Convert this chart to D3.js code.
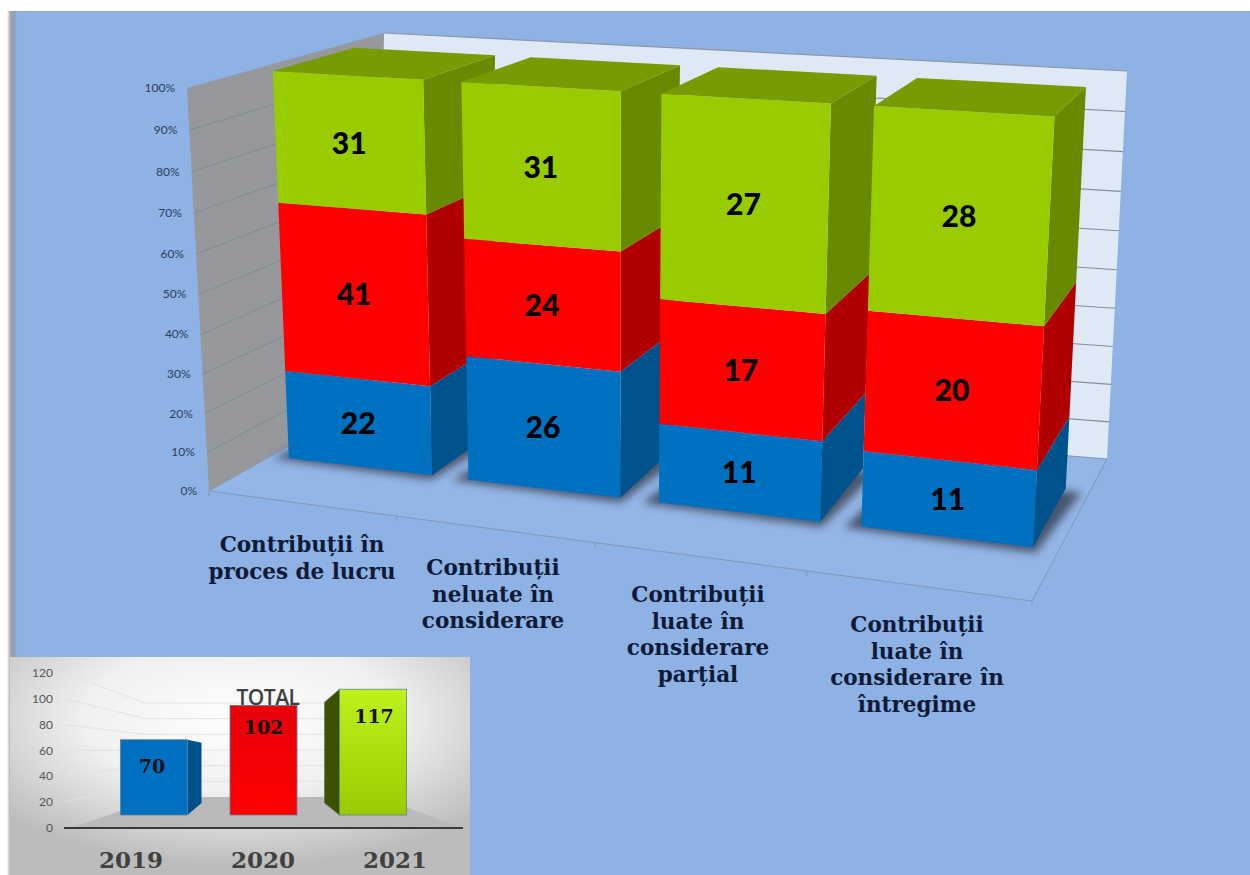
<!DOCTYPE html>
<html>
<head>
<meta charset="utf-8">
<script src="https://cdnjs.cloudflare.com/ajax/libs/d3/7.8.5/d3.min.js"></script>
<style>
  html, body { margin: 0; padding: 0; background: #fff; }
  svg { display: block; }
</style>
</head>
<body>
<div class="chart"></div>
<script>
var categories = [
  ["Contribuții în", "proces de lucru"],
  ["Contribuții", "neluate în", "considerare"],
  ["Contribuții", "luate în", "considerare", "parțial"],
  ["Contribuții", "luate în", "considerare în", "întregime"]
];
var series2019 = [22, 26, 11, 11];
var series2020 = [41, 24, 17, 20];
var series2021 = [31, 31, 27, 28];
var percentTicks = [0, 10, 20, 30, 40, 50, 60, 70, 80, 90, 100];

var totalYears = ["2019", "2020", "2021"];
var totalValues = [70, 102, 117];
var totalTicks = [0, 20, 40, 60, 80, 100, 120];

var width = 1250, height = 875;

var svg = d3.select(".chart").append("svg")
  .attr("width", width)
  .attr("height", height);

var defs = svg.append("defs");
defs.append("filter").attr("id", "blur").attr("x", "-20%").attr("y", "-50%").attr("width", "140%").attr("height", "200%")
  .append("feGaussianBlur").attr("stdDeviation", 4);
var edgeGrad = defs.append("linearGradient").attr("id", "edge");
edgeGrad.append("stop").attr("offset", "0%").attr("stop-color", "#ffffff");
edgeGrad.append("stop").attr("offset", "35%").attr("stop-color", "#a4a6aa");
edgeGrad.append("stop").attr("offset", "70%").attr("stop-color", "#8f9fb8");
edgeGrad.append("stop").attr("offset", "100%").attr("stop-color", "#8db2e3");
var panelGrad = defs.append("radialGradient").attr("id", "panel").attr("cx", "50%").attr("cy", "28%").attr("r", "68%");
panelGrad.append("stop").attr("offset", "0%").attr("stop-color", "#ffffff");
panelGrad.append("stop").attr("offset", "50%").attr("stop-color", "#f0f0f0");
panelGrad.append("stop").attr("offset", "100%").attr("stop-color", "#bcbcbc");
var redGrad = defs.append("linearGradient").attr("id", "inRed").attr("x1", 0).attr("x2", 0).attr("y1", 0).attr("y2", 1);
redGrad.append("stop").attr("offset", "0%").attr("stop-color", "#e8000a");
redGrad.append("stop").attr("offset", "100%").attr("stop-color", "#ff0000");
var greenGrad = defs.append("linearGradient").attr("id", "inGreen").attr("x1", 0).attr("x2", 0).attr("y1", 0).attr("y2", 1);
greenGrad.append("stop").attr("offset", "0%").attr("stop-color", "#bdf21c");
greenGrad.append("stop").attr("offset", "100%").attr("stop-color", "#98cc00");

// page background, the picture has a white edge top and left
svg.append("rect").attr("width", width).attr("height", height).attr("fill", "#fff");
svg.append("rect").attr("x", 16).attr("y", 11).attr("width", width - 16).attr("height", height - 11).attr("fill", "#8db2e3");
svg.append("rect").attr("x", 7).attr("y", 11).attr("width", 10).attr("height", height - 11).attr("fill", "url(#edge)");

// ---- main chart: corners of the 3d box on screen, u across, v up, d into the page
var wallCorners = {
  botFront: [[209, 491], [1032, 601]], botBack: [[372, 399], [1107, 459]],
  topFront: [[187, 88], [1056, 142]], topBack: [[384, 33], [1127, 71]]
};
// the bars lean a little more than the left wall does
var barCorners = {
  botFront: [[212, 488], [1032, 600]], botBack: [[375, 396], [1107, 458]],
  topFront: [[183, 89], [1056, 143]], topBack: [[380, 34], [1127, 72]]
};

// foreshortening along each axis
function warp(t, k) { return t / (t + k * (1 - t)); }
var uK = 1.13, vK = 1.05;

function mix(a, b, t) { return [a[0] + (b[0] - a[0]) * t, a[1] + (b[1] - a[1]) * t]; }
function projectWith(c, u, v, d) {
  var x = warp(u, uK), y = warp(v, vK);
  var bot = mix(mix(c.botFront[0], c.botFront[1], x), mix(c.botBack[0], c.botBack[1], x), d);
  var top = mix(mix(c.topFront[0], c.topFront[1], x), mix(c.topBack[0], c.topBack[1], x), d);
  return mix(bot, top, y);
}
function project(u, v, d) { return projectWith(wallCorners, u, v, d); }
function barPoint(u, v, d) { return projectWith(barCorners, u, v, d); }
function poly(pts) { return "M" + pts.map(function(p) { return p.join(","); }).join("L") + "Z"; }

var uBand = d3.scaleBand().domain(d3.range(categories.length)).range([0, 1]).paddingInner(0.198).paddingOuter(0.114);
var vScale = d3.scaleLinear().domain([0, 100]).range([0, 1]);
var dFront = 0.35, dBack = 0.77;

var main = svg.append("g");

// walls and floor
main.append("path").attr("d", poly([project(0,0,1), project(1,0,1), project(1,1,1), project(0,1,1)])).attr("fill", "#dfe8f5");
main.append("path").attr("d", d3.line()([project(0,1,1), project(1,1,1)])).attr("stroke", "#8d96a6").attr("stroke-width", 1.2).attr("fill", "none");
main.append("path").attr("d", poly([project(0,0,0), project(0,0,1), project(0,1,1), project(0,1,0)])).attr("fill", "#96989c");
main.append("path").attr("d", poly([project(0,0,0), project(1,0,0), project(1,0,1), project(0,0,1)])).attr("fill", "#94b6e6").attr("stroke", "#8096b8").attr("stroke-width", 1);

// gridlines run along the left wall and the back wall
main.selectAll(".grid").data(percentTicks.slice(1, -1)).join("path")
  .attr("class", "grid")
  .attr("fill", "none")
  .attr("stroke", "#868b94")
  .attr("stroke-width", 1.1)
  .attr("d", function(t) {
    var v = vScale(t);
    return d3.line()([project(0, v, 0), project(0, v, 1), project(1, v, 1)]);
  });

// axis ticks and labels
main.selectAll(".ptick").data(percentTicks).join("text")
  .attr("class", "ptick")
  .attr("x", function(t) { return project(0, vScale(t), 0)[0] - 12; })
  .attr("y", function(t) { return project(0, vScale(t), 0)[1] + 4; })
  .attr("text-anchor", "end")
  .attr("font-family", "Lato")
  .attr("font-size", 12)
  .attr("fill", "#2c3e5e")
  .text(function(t) { return t + "%"; });

main.selectAll(".xtick").data(d3.range(categories.length + 1)).join("path")
  .attr("class", "xtick")
  .attr("stroke", "#8096b8")
  .attr("fill", "none")
  .attr("d", function(i) {
    var p = project(i / categories.length, 0, 0);
    return d3.line()([p, [p[0], p[1] + 5]]);
  });

// stack per category, bottom to top
var layers = [
  { vals: series2019, front: "#0070c0", side: "#00528c" },
  { vals: series2020, front: "#ff0000", side: "#b00000" },
  { vals: series2021, front: "#99cc00", side: "#688a00", top: "#759c00" }
];

categories.forEach(function(cat, i) {
  var total = series2019[i] + series2020[i] + series2021[i];
  var u0 = uBand(i), u1 = u0 + uBand.bandwidth();
  var g = main.append("g");

  // soft shadow on the floor
  g.append("path")
    .attr("d", poly([barPoint(u0 - 0.018, 0, dFront - 0.02), barPoint(u1 + 0.006, 0, dFront - 0.035), barPoint(u1 + 0.02, 0, dBack - 0.02), barPoint(u0, 0, dBack)]))
    .attr("fill", "#2e3644")
    .attr("opacity", 0.75)
    .attr("filter", "url(#blur)");

  var acc = 0;
  layers.forEach(function(l) {
    var v0 = vScale(acc / total * 100);
    acc += l.vals[i];
    var v1 = vScale(acc / total * 100);
    g.append("path").attr("d", poly([barPoint(u1, v0, dFront), barPoint(u1, v0, dBack), barPoint(u1, v1, dBack), barPoint(u1, v1, dFront)])).attr("fill", l.side);
    g.append("path").attr("d", poly([barPoint(u0, v0, dFront), barPoint(u1, v0, dFront), barPoint(u1, v1, dFront), barPoint(u0, v1, dFront)])).attr("fill", l.front);
    var c = barPoint((u0 + u1) / 2, (v0 + v1) / 2, dFront);
    g.append("text")
      .attr("x", c[0])
      .attr("y", c[1] + 11)
      .attr("text-anchor", "middle")
      .attr("font-family", "Lato")
      .attr("font-weight", 900)
      .attr("font-size", 30)
      .attr("fill", "#000")
      .text(l.vals[i]);
    if (l.top) {
      g.append("path").attr("d", poly([barPoint(u0, v1, dFront), barPoint(u1, v1, dFront), barPoint(u1, v1, dBack), barPoint(u0, v1, dBack)])).attr("fill", l.top);
    }
  });
});

// category labels
var labelX = [302, 493, 698, 917], labelY = [552, 575, 602, 632];
categories.forEach(function(lines, i) {
  main.append("text")
    .attr("text-anchor", "middle")
    .attr("font-family", "DejaVu Serif")
    .attr("font-weight", 700)
    .attr("font-size", 21.5)
    .attr("fill", "#0e1a38")
    .selectAll("tspan").data(lines).join("tspan")
    .attr("x", labelX[i])
    .attr("y", function(d, k) { return labelY[i] + k * 26.6; })
    .text(function(d) { return d; });
});

// ---- inset with the totals
var inset = svg.append("g");
inset.append("rect").attr("x", 10).attr("y", 657).attr("width", 460).attr("height", 218).attr("fill", "url(#panel)");

var frontY = d3.scaleLinear().domain([0, 120]).range([828, 673]);
var backY = d3.scaleLinear().domain([0, 120]).range([797, 703]);
var barY = d3.scaleLinear().domain([0, 120]).range([815, 686]);
var yearX = d3.scalePoint().domain(totalYears).range([154, 373]);

inset.selectAll(".igrid").data(totalTicks.slice(1)).join("path")
  .attr("class", "igrid")
  .attr("fill", "none")
  .attr("stroke", "#e2e2e2")
  .attr("d", function(t) {
    return d3.line()([[65, frontY(t)], [145, backY(t)], [340, backY(t)]]);
  });

inset.append("path").attr("d", poly([[70, 828], [462, 828], [378, 797], [162, 797]])).attr("fill", "#b9b9b9");
inset.append("line").attr("x1", 64).attr("x2", 463).attr("y1", 828).attr("y2", 828).attr("stroke", "#3a3a3a").attr("stroke-width", 2);

inset.selectAll(".itick").data(totalTicks).join("text")
  .attr("class", "itick")
  .attr("x", 53)
  .attr("y", function(t) { return frontY(t) + 4; })
  .attr("text-anchor", "end")
  .attr("font-family", "Lato")
  .attr("font-size", 12)
  .attr("fill", "#555")
  .text(function(t) { return t; });

var barStyles = [
  { front: "#0070c0", side: "#00508a", sideAt: 1, labelDx: -2, labelDy: 33, yearX: 131 },
  { front: "url(#inRed)", side: "#b00000", sideAt: 0, labelDx: 0, labelDy: 29, yearX: 263 },
  { front: "url(#inGreen)", side: "#3d5200", sideAt: -1, labelDx: 1, labelDy: 34, yearX: 395 }
];
totalYears.forEach(function(y, i) {
  var s = barStyles[i], cx = yearX(y), hw = 33.5;
  var top = barY(totalValues[i]), bot = barY(0);
  if (s.sideAt === 1) {
    inset.append("path").attr("d", poly([[cx + hw, top], [cx + hw + 14, top + 3], [cx + hw + 14, bot - 12], [cx + hw, bot]])).attr("fill", s.side);
  }
  if (s.sideAt === -1) {
    inset.append("path").attr("d", poly([[cx - hw, top], [cx - hw - 15, top + 13], [cx - hw - 15, bot - 12], [cx - hw, bot]])).attr("fill", s.side).attr("stroke", "#5b7a6a").attr("stroke-width", 0.7);
  }
  inset.append("rect").attr("x", cx - hw).attr("y", top).attr("width", hw * 2).attr("height", bot - top)
    .attr("fill", s.front).attr("stroke", "#5f7f90").attr("stroke-width", 0.8);
  inset.append("text")
    .attr("x", cx + s.labelDx)
    .attr("y", top + s.labelDy)
    .attr("text-anchor", "middle")
    .attr("font-family", "DejaVu Serif")
    .attr("font-weight", 700)
    .attr("font-size", 19)
    .attr("fill", "#111")
    .text(totalValues[i]);
  inset.append("text")
    .attr("x", s.yearX)
    .attr("y", 868)
    .attr("text-anchor", "middle")
    .attr("font-family", "DejaVu Serif")
    .attr("font-weight", 700)
    .attr("font-size", 23)
    .attr("fill", "#404040")
    .text(y);
});

inset.append("text")
  .attr("x", 268).attr("y", 705)
  .attr("text-anchor", "middle")
  .attr("font-family", "Open Sans")
  .attr("font-weight", 600)
  .attr("font-size", 21)
  .attr("letter-spacing", -0.5)
  .attr("fill", "#404040")
  .text("TOTAL");
</script>
</body>
</html>
